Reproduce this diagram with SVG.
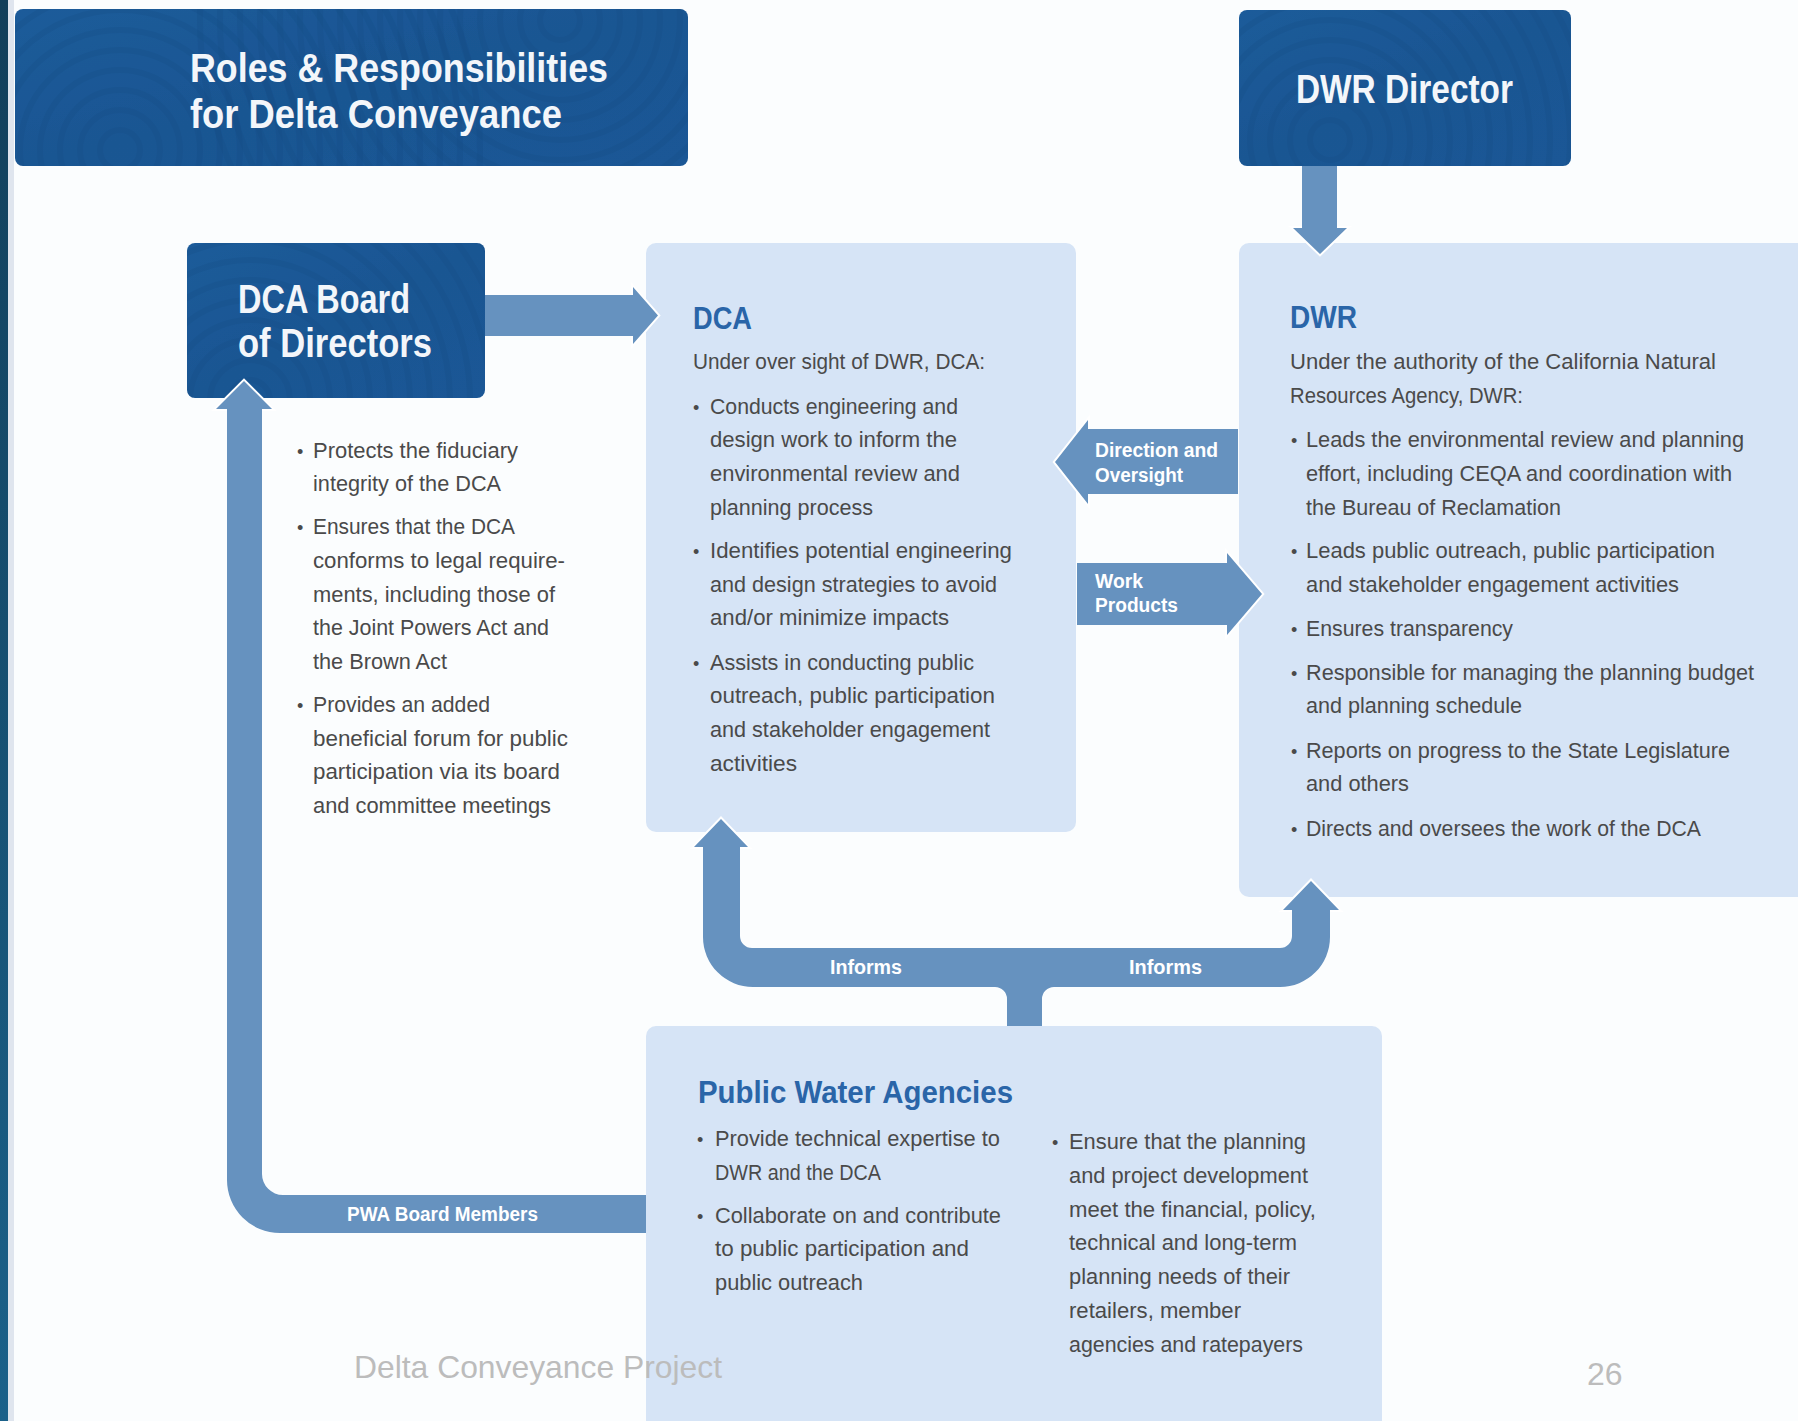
<svg xmlns="http://www.w3.org/2000/svg" width="1798" height="1421" viewBox="0 0 1798 1421">
<defs>
<linearGradient id="strip" x1="0" y1="0" x2="0" y2="1">
<stop offset="0" stop-color="#123f5a"/>
<stop offset="1" stop-color="#1b618a"/>
</linearGradient>
<linearGradient id="darkg" x1="0" y1="0" x2="1" y2="1">
<stop offset="0" stop-color="#1d5c9a"/>
<stop offset="0.5" stop-color="#1a5693"/>
<stop offset="1" stop-color="#1b5896"/>
</linearGradient>
<clipPath id="cTitle"><rect x="15" y="9" width="673" height="157" rx="8"/></clipPath>
<clipPath id="cDir"><rect x="1239" y="10" width="332" height="156" rx="8"/></clipPath>
<clipPath id="cBoard"><rect x="187" y="243" width="298" height="155" rx="8"/></clipPath>
<g id="rings" fill="none" stroke="#134a80" stroke-width="6" opacity="0.22">
<circle r="20"/><circle r="40"/><circle r="60"/><circle r="80"/><circle r="100"/><circle r="120"/><circle r="140"/><circle r="160"/><circle r="180"/><circle r="200"/><circle r="220"/><circle r="240"/><circle r="260"/><circle r="280"/><circle r="300"/><circle r="320"/><circle r="340"/><circle r="360"/>
</g>
<style>
.body{font-family:"Liberation Sans",Arial,sans-serif;font-size:22px;fill:#4a4a4a}
.bul{font-family:"Liberation Sans",Arial,sans-serif;font-size:18px;fill:#4a4a4a}
.head{font-family:"Liberation Sans",Arial,sans-serif;font-size:31px;font-weight:bold;fill:#2a65a8}
.boxt{font-family:"Liberation Sans",Arial,sans-serif;font-size:40px;font-weight:bold;fill:#f3f6fa}
.lbl{font-family:"Liberation Sans",Arial,sans-serif;font-size:20px;font-weight:bold;fill:#ffffff}
.arrow{fill:#6692bf}
.halo{fill:none;stroke:#ffffff;stroke-width:4;stroke-linejoin:miter}
.panel{fill:#d6e4f6}
.dark{fill:url(#darkg)}
.foot{font-family:"Liberation Sans",Arial,sans-serif;font-size:32px;fill:#bcbcbc}
</style>
</defs>
<rect x="0" y="0" width="1798" height="1421" fill="#fbfdfe"/>
<rect x="0" y="0" width="8" height="1421" fill="url(#strip)"/>
<rect x="8" y="0" width="6" height="1421" fill="#dfe5ee"/>

<g id="title">
<rect class="dark" x="15" y="9" width="673" height="157" rx="8"/>
<g clip-path="url(#cTitle)"><use href="#rings" x="120" y="150"/><use href="#rings" x="560" y="20"/></g>
<text class="boxt" x="190" y="82" font-size="42" textLength="418" lengthAdjust="spacingAndGlyphs">Roles &amp; Responsibilities</text>
<text class="boxt" x="190" y="128" font-size="42" textLength="372" lengthAdjust="spacingAndGlyphs">for Delta Conveyance</text>
</g>

<g id="dwr-director">
<rect class="dark" x="1239" y="10" width="332" height="156" rx="8"/>
<g clip-path="url(#cDir)"><use href="#rings" x="1330" y="140"/></g>
<text class="boxt" x="1296" y="103" textLength="217" lengthAdjust="spacingAndGlyphs">DWR Director</text>
</g>

<g id="dca-board">
<rect class="dark" x="187" y="243" width="298" height="155" rx="8"/>
<g clip-path="url(#cBoard)"><use href="#rings" x="250" y="400"/></g>
<text class="boxt" x="238" y="313" textLength="172" lengthAdjust="spacingAndGlyphs">DCA Board</text>
<text class="boxt" x="238" y="357" textLength="194" lengthAdjust="spacingAndGlyphs">of Directors</text>
<text class="bul" x="297" y="458">•</text>
<text class="body" x="313" y="458" textLength="205" lengthAdjust="spacingAndGlyphs">Protects the fiduciary</text>
<text class="body" x="313" y="491" textLength="188" lengthAdjust="spacingAndGlyphs">integrity of the DCA</text>
<text class="bul" x="297" y="534">•</text>
<text class="body" x="313" y="534" textLength="202" lengthAdjust="spacingAndGlyphs">Ensures that the DCA</text>
<text class="body" x="313" y="568" textLength="252" lengthAdjust="spacingAndGlyphs">conforms to legal require-</text>
<text class="body" x="313" y="602" textLength="242" lengthAdjust="spacingAndGlyphs">ments, including those of</text>
<text class="body" x="313" y="635" textLength="236" lengthAdjust="spacingAndGlyphs">the Joint Powers Act and</text>
<text class="body" x="313" y="669" textLength="134" lengthAdjust="spacingAndGlyphs">the Brown Act</text>
<text class="bul" x="297" y="712">•</text>
<text class="body" x="313" y="712" textLength="177" lengthAdjust="spacingAndGlyphs">Provides an added</text>
<text class="body" x="313" y="746" textLength="255" lengthAdjust="spacingAndGlyphs">beneficial forum for public</text>
<text class="body" x="313" y="779" textLength="247" lengthAdjust="spacingAndGlyphs">participation via its board</text>
<text class="body" x="313" y="813" textLength="238" lengthAdjust="spacingAndGlyphs">and committee meetings</text>
</g>

<g id="dca">
<rect class="panel" x="646" y="243" width="430" height="589" rx="10"/>
<text class="head" x="693" y="329" textLength="59" lengthAdjust="spacingAndGlyphs">DCA</text>
<text class="body" x="693" y="369" textLength="292" lengthAdjust="spacingAndGlyphs">Under over sight of DWR, DCA:</text>
<text class="bul" x="693" y="414">•</text>
<text class="body" x="710" y="414" textLength="248" lengthAdjust="spacingAndGlyphs">Conducts engineering and</text>
<text class="body" x="710" y="447" textLength="247" lengthAdjust="spacingAndGlyphs">design work to inform the</text>
<text class="body" x="710" y="481" textLength="250" lengthAdjust="spacingAndGlyphs">environmental review and</text>
<text class="body" x="710" y="515" textLength="163" lengthAdjust="spacingAndGlyphs">planning process</text>
<text class="bul" x="693" y="558">•</text>
<text class="body" x="710" y="558" textLength="302" lengthAdjust="spacingAndGlyphs">Identifies potential engineering</text>
<text class="body" x="710" y="592" textLength="287" lengthAdjust="spacingAndGlyphs">and design strategies to avoid</text>
<text class="body" x="710" y="625" textLength="239" lengthAdjust="spacingAndGlyphs">and/or minimize impacts</text>
<text class="bul" x="693" y="670">•</text>
<text class="body" x="710" y="670" textLength="264" lengthAdjust="spacingAndGlyphs">Assists in conducting public</text>
<text class="body" x="710" y="703" textLength="285" lengthAdjust="spacingAndGlyphs">outreach, public participation</text>
<text class="body" x="710" y="737" textLength="280" lengthAdjust="spacingAndGlyphs">and stakeholder engagement</text>
<text class="body" x="710" y="771" textLength="87" lengthAdjust="spacingAndGlyphs">activities</text>
</g>

<g id="dwr">
<rect class="panel" x="1239" y="243" width="600" height="654" rx="10"/>
<text class="head" x="1290" y="328" textLength="67" lengthAdjust="spacingAndGlyphs">DWR</text>
<text class="body" x="1290" y="369" textLength="426" lengthAdjust="spacingAndGlyphs">Under the authority of the California Natural</text>
<text class="body" x="1290" y="403" textLength="233" lengthAdjust="spacingAndGlyphs">Resources Agency, DWR:</text>
<text class="bul" x="1291" y="447">•</text>
<text class="body" x="1306" y="447" textLength="438" lengthAdjust="spacingAndGlyphs">Leads the environmental review and planning</text>
<text class="body" x="1306" y="481" textLength="426" lengthAdjust="spacingAndGlyphs">effort, including CEQA and coordination with</text>
<text class="body" x="1306" y="515" textLength="255" lengthAdjust="spacingAndGlyphs">the Bureau of Reclamation</text>
<text class="bul" x="1291" y="558">•</text>
<text class="body" x="1306" y="558" textLength="409" lengthAdjust="spacingAndGlyphs">Leads public outreach, public participation</text>
<text class="body" x="1306" y="592" textLength="373" lengthAdjust="spacingAndGlyphs">and stakeholder engagement activities</text>
<text class="bul" x="1291" y="636">•</text>
<text class="body" x="1306" y="636" textLength="207" lengthAdjust="spacingAndGlyphs">Ensures transparency</text>
<text class="bul" x="1291" y="680">•</text>
<text class="body" x="1306" y="680" textLength="448" lengthAdjust="spacingAndGlyphs">Responsible for managing the planning budget</text>
<text class="body" x="1306" y="713" textLength="216" lengthAdjust="spacingAndGlyphs">and planning schedule</text>
<text class="bul" x="1291" y="758">•</text>
<text class="body" x="1306" y="758" textLength="424" lengthAdjust="spacingAndGlyphs">Reports on progress to the State Legislature</text>
<text class="body" x="1306" y="791" textLength="103" lengthAdjust="spacingAndGlyphs">and others</text>
<text class="bul" x="1291" y="836">•</text>
<text class="body" x="1306" y="836" textLength="395" lengthAdjust="spacingAndGlyphs">Directs and oversees the work of the DCA</text>
</g>

<g id="pwa">
<rect class="panel" x="646" y="1026" width="736" height="420" rx="10"/>
<text class="head" x="698" y="1103" textLength="315" lengthAdjust="spacingAndGlyphs">Public Water Agencies</text>
<text class="bul" x="697" y="1146">•</text>
<text class="body" x="715" y="1146" textLength="285" lengthAdjust="spacingAndGlyphs">Provide technical expertise to</text>
<text class="body" x="715" y="1180" textLength="166" lengthAdjust="spacingAndGlyphs">DWR and the DCA</text>
<text class="bul" x="697" y="1223">•</text>
<text class="body" x="715" y="1223" textLength="286" lengthAdjust="spacingAndGlyphs">Collaborate on and contribute</text>
<text class="body" x="715" y="1256" textLength="254" lengthAdjust="spacingAndGlyphs">to public participation and</text>
<text class="body" x="715" y="1290" textLength="148" lengthAdjust="spacingAndGlyphs">public outreach</text>
<text class="bul" x="1052" y="1149">•</text>
<text class="body" x="1069" y="1149" textLength="237" lengthAdjust="spacingAndGlyphs">Ensure that the planning</text>
<text class="body" x="1069" y="1183" textLength="239" lengthAdjust="spacingAndGlyphs">and project development</text>
<text class="body" x="1069" y="1217" textLength="247" lengthAdjust="spacingAndGlyphs">meet the financial, policy,</text>
<text class="body" x="1069" y="1250" textLength="228" lengthAdjust="spacingAndGlyphs">technical and long-term</text>
<text class="body" x="1069" y="1284" textLength="221" lengthAdjust="spacingAndGlyphs">planning needs of their</text>
<text class="body" x="1069" y="1318" textLength="172" lengthAdjust="spacingAndGlyphs">retailers, member</text>
<text class="body" x="1069" y="1352" textLength="234" lengthAdjust="spacingAndGlyphs">agencies and ratepayers</text>
</g>

<g id="connectors">
<path class="halo" d="M1302 228 L1293 228 L1320 254 L1347 228 L1337 228"/>
<path class="halo" d="M633 295 L633 287 L658 315.5 L633 344 L633 336"/>
<path class="halo" d="M227 409 L216 409 L244 381 L272 409 L262 409"/>
<path class="halo" d="M703 847 L694 847 L721 819 L748 847 L740 847"/>
<path class="halo" d="M1292 910 L1283 910 L1311 881 L1339 910 L1330 910"/>
<path class="halo" d="M1088 429 L1088 420 L1055 462 L1088 504 L1088 494"/>
<path class="halo" d="M1227 563 L1227 553 L1262 594 L1227 635 L1227 625"/>

<path id="director-to-dwr" class="arrow" d="M1302 166 L1337 166 L1337 228 L1347 228 L1320 254 L1293 228 L1302 228 Z"/>
<path id="board-to-dca" class="arrow" d="M485 295 L633 295 L633 287 L658 315.5 L633 344 L633 336 L485 336 Z"/>
<path id="pwa-to-board" class="arrow" d="M244 381 L272 409 L262 409 L262 1174 A21 21 0 0 0 283 1195 L646 1195 L646 1233 L280 1233 A53 53 0 0 1 227 1180 L227 409 L216 409 Z"/>
<path id="pwa-informs" class="arrow" d="M721 819 L748 847 L740 847 L740 936 A12 12 0 0 0 752 948 L1280 948 A12 12 0 0 0 1292 936 L1292 910 L1283 910 L1311 881 L1339 910 L1330 910 L1330 937 A50 50 0 0 1 1280 987 L1054 987 A12 12 0 0 0 1042 999 L1042 1026 L1007 1026 L1007 999 A12 12 0 0 0 995 987 L753 987 A50 50 0 0 1 703 937 L703 847 L694 847 Z"/>
<path id="dwr-to-dca" class="arrow" d="M1238 429 L1088 429 L1088 420 L1055 462 L1088 504 L1088 494 L1238 494 Z"/>
<path id="dca-to-dwr" class="arrow" d="M1077 563 L1227 563 L1227 553 L1262 594 L1227 635 L1227 625 L1077 625 Z"/>

<text class="lbl" x="1095" y="457" textLength="123" lengthAdjust="spacingAndGlyphs">Direction and</text>
<text class="lbl" x="1095" y="482" textLength="88" lengthAdjust="spacingAndGlyphs">Oversight</text>
<text class="lbl" x="1095" y="588" textLength="48" lengthAdjust="spacingAndGlyphs">Work</text>
<text class="lbl" x="1095" y="612" textLength="83" lengthAdjust="spacingAndGlyphs">Products</text>
<text class="lbl" x="830" y="974" textLength="72" lengthAdjust="spacingAndGlyphs">Informs</text>
<text class="lbl" x="1129" y="974" textLength="73" lengthAdjust="spacingAndGlyphs">Informs</text>
<text class="lbl" x="347" y="1221" textLength="191" lengthAdjust="spacingAndGlyphs">PWA Board Members</text>
</g>

<g id="footer">
<text class="foot" x="354" y="1378" textLength="368" lengthAdjust="spacingAndGlyphs">Delta Conveyance Project</text>
<text class="foot" x="1587" y="1385">26</text>
</g>
</svg>
